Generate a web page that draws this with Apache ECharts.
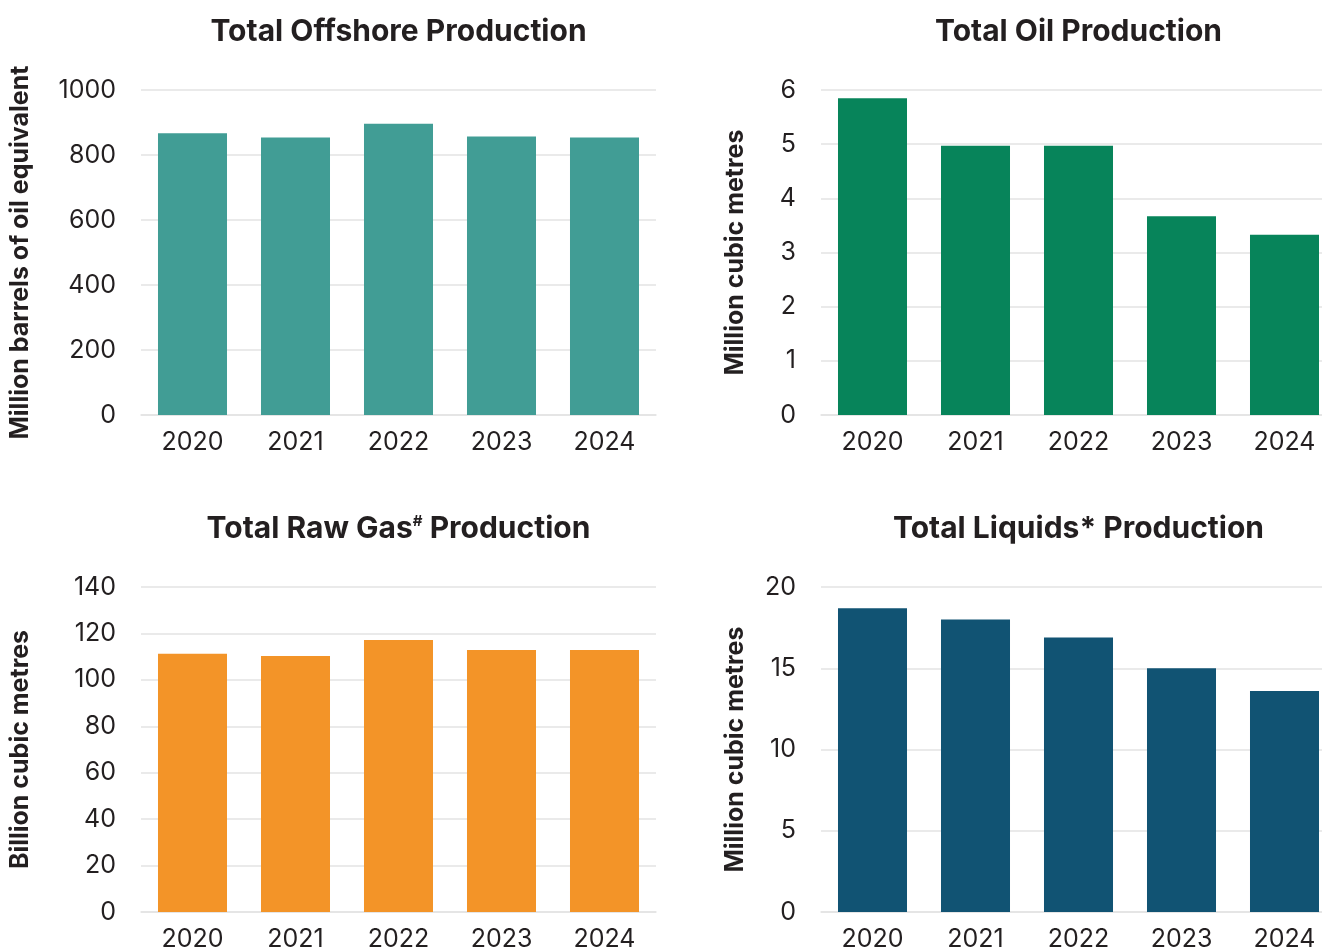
<!DOCTYPE html>
<html>
<head>
<meta charset="utf-8">
<title>Production 2020–2024</title>
<script src="https://cdn.jsdelivr.net/npm/echarts@6/dist/echarts.min.js"></script>
<style>
  html, body { margin: 0; padding: 0; background: #ffffff; overflow: hidden; }
  #chart { width: 1322px; height: 951px; }
</style>
</head>
<body>
<div id="chart"></div>
<script>
// Years shared by all four panels
const years = ['2020', '2021', '2022', '2023', '2024'];

// Annual production values
const offshoreMboe = [867, 854, 896, 857, 854];        // million barrels of oil equivalent
const oilMcm = [5.85, 4.97, 4.97, 3.67, 3.33];         // million cubic metres
const rawGasBcm = [111.3, 110.3, 117.2, 112.9, 112.9]; // billion cubic metres
const liquidsMcm = [18.7, 18.0, 16.9, 15.0, 13.6];     // million cubic metres

// Axis settings per panel
const offshoreAxis = { max: 1000, interval: 200 };
const oilAxis = { max: 6, interval: 1 };
const gasAxis = { max: 140, interval: 20 };
const liquidsAxis = { max: 20, interval: 5 };

const FONT = 'Inter, Roboto, "Liberation Sans", sans-serif';
const TEXT = '#231f20';
const GRID_LINE = '#e3e3e3';

const panels = [
  { title: 'Total Offshore Production', name: 'Million barrels of oil equivalent', data: offshoreMboe, axis: offshoreAxis, color: '#419d95',
    left: 141, top: 90, nameGap: 108 },
  { title: 'Total Oil Production', name: 'Million cubic metres', data: oilMcm, axis: oilAxis, color: '#07845a',
    left: 821, top: 90, nameGap: 73 },
  { title: 'Total Raw Gas{sup|#} Production', name: 'Billion cubic metres', data: rawGasBcm, axis: gasAxis, color: '#f39428',
    left: 141, top: 587, nameGap: 108 },
  { title: 'Total Liquids* Production', name: 'Million cubic metres', data: liquidsMcm, axis: liquidsAxis, color: '#115373',
    left: 821, top: 587, nameGap: 73 }
];

// Plot area size (the right-hand panels run past the page edge)
const PLOT_W = 515;
const PLOT_H = 325;

const option = {
  backgroundColor: '#ffffff',
  animation: false,
  textStyle: { fontFamily: FONT },
  title: panels.map(p => ({
    text: p.title,
    left: p.left + PLOT_W / 2,
    top: p.top - 73,
    padding: 0,
    textAlign: 'center',
    textStyle: {
      fontFamily: FONT, fontWeight: 'bold', fontSize: 30, color: TEXT,
      rich: { sup: { fontFamily: FONT, fontWeight: 'bold', fontSize: 15, color: TEXT, verticalAlign: 'top', padding: [0, 0, 13, 0] } }
    }
  })),
  grid: panels.map(p => ({
    left: p.left, top: p.top, width: PLOT_W, height: PLOT_H,
    containLabel: false, outerBoundsMode: 'none'
  })),
  xAxis: panels.map((p, i) => ({
    type: 'category',
    gridIndex: i,
    data: years,
    axisTick: { show: false },
    axisLine: { show: true, lineStyle: { color: GRID_LINE, width: 1.5 } },
    axisLabel: { color: TEXT, fontSize: 25, fontFamily: FONT, margin: 15 }
  })),
  yAxis: panels.map((p, i) => ({
    type: 'value',
    gridIndex: i,
    min: 0,
    max: p.axis.max,
    interval: p.axis.interval,
    name: p.name,
    nameLocation: 'middle',
    nameGap: p.nameGap,
    nameRotate: 90,
    nameTextStyle: { color: TEXT, fontSize: 25, fontWeight: 'bold', fontFamily: FONT },
    axisLine: { show: false },
    axisTick: { show: false },
    axisLabel: { color: TEXT, fontSize: 25, fontFamily: FONT, margin: 25, formatter: v => String(v) },
    splitLine: { lineStyle: { color: GRID_LINE, width: 1.5 } }
  })),
  series: panels.map((p, i) => ({
    type: 'bar',
    xAxisIndex: i,
    yAxisIndex: i,
    data: p.data,
    barWidth: '67%',
    itemStyle: { color: p.color },
    silent: true
  }))
};

const chart = echarts.init(document.getElementById('chart'), null, { renderer: 'canvas' });
chart.setOption(option);
</script>
</body>
</html>
